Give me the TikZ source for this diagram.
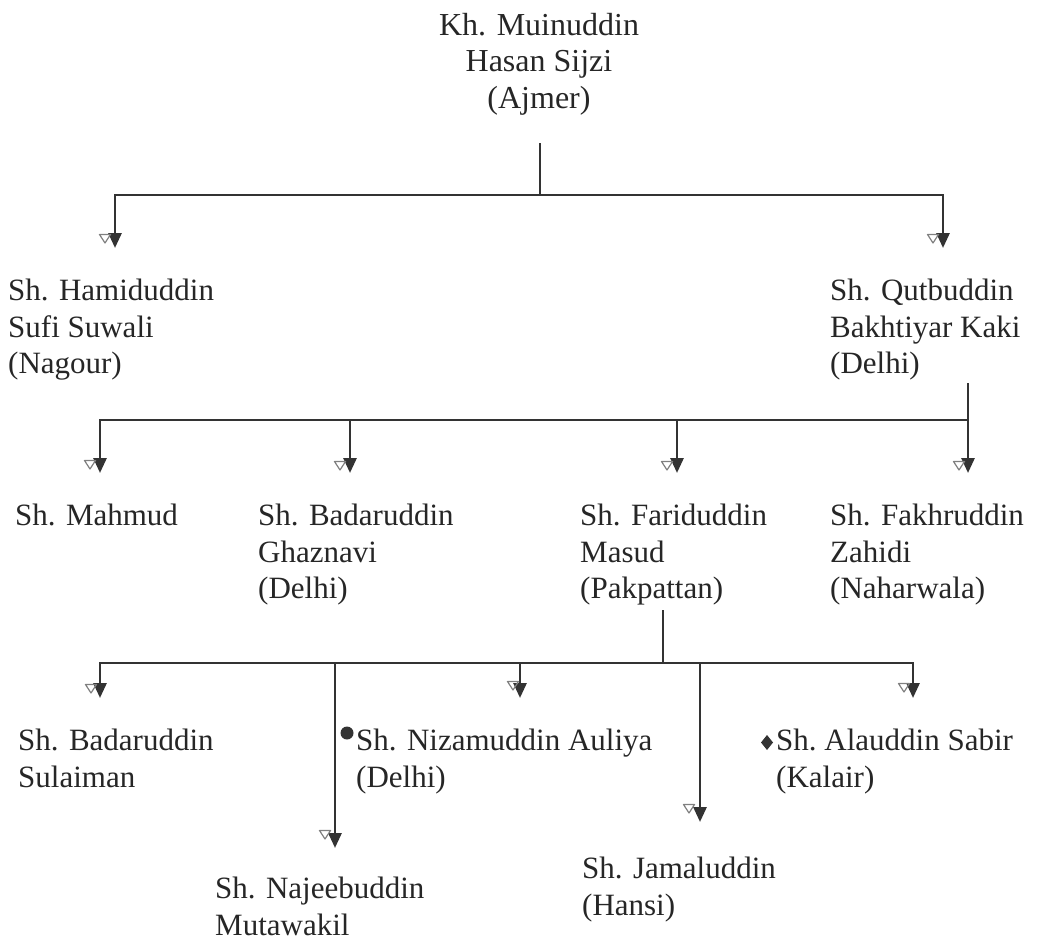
\documentclass[tikz,border=0pt]{standalone}
\usepackage{fontspec}
\setmainfont{Liberation Serif}
\usetikzlibrary{arrows.meta}
\begin{document}
\begin{tikzpicture}[x=1pt,y=-1pt,
  person/.style={anchor=north west, inner sep=0pt, align=left,
    font=\fontsize{31}{36.5}\selectfont, text=black!85},
  link/.style={line width=2.8pt, draw=black!80},
  arr/.style={link, -{Triangle[width=13pt,length=15pt]}},
  ghostmark/.pic={\draw[line width=1.2pt, draw=black!50, line join=round] (-5.5,-3.5) -- (5.5,-3.5) -- (0,5) -- cycle;}
]
\useasboundingbox (0,0) rectangle (1041,940);
% people
\node[person, anchor=north, align=center, font=\fontsize{32}{36.5}\selectfont] (muin) at (539,13) {Kh. Muinuddin\\Hasan Sijzi\\(Ajmer)};
\node[person] (hamid) at (8,279) {Sh. Hamiduddin\\Sufi Suwali\\(Nagour)};
\node[person] (qutb) at (830,279) {Sh. Qutbuddin\\Bakhtiyar Kaki\\(Delhi)};
\node[person] (mahmud) at (15,504) {Sh. Mahmud};
\node[person] (badg) at (258,504) {Sh. Badaruddin\\Ghaznavi\\(Delhi)};
\node[person] (farid) at (580,504) {Sh. Fariduddin\\Masud\\(Pakpattan)};
\node[person] (fakhr) at (830,504) {Sh. Fakhruddin\\Zahidi\\(Naharwala)};
\node[person] (bads) at (18,729) {Sh. Badaruddin\\Sulaiman};
\node[person] (nizam) at (356,729) {Sh. Nizamuddin Auliya\\(Delhi)};
\node[person] (ala) at (776,729) {Sh.\ Alauddin\ Sabir\\(Kalair)};
\node[person] (najeeb) at (215,877) {Sh. Najeebuddin\\Mutawakil};
\node[person] (jamal) at (582,857) {Sh. Jamaluddin\\(Hansi)};
% markers
\fill[black!80] (347,733) circle (6.5pt);
\fill[black!80] (767,735) -- (773,742.5) -- (767,750) -- (761,742.5) -- cycle;
% level 1
\coordinate (m1) at (540,143);
\coordinate (j1) at (540,195);
\coordinate (b1l) at (115,195);
\coordinate (b1r) at (943,195);
\coordinate (t1l) at (115,248);
\coordinate (t1r) at (943,248);
\draw[link] (m1) -- (j1);
\draw[arr] (j1) -- (b1l) -- (t1l);
\draw[arr] (j1) -- (b1r) -- (t1r);
% level 2
\coordinate (q2) at (968,383);
\coordinate (j2) at (968,420);
\coordinate (b2a) at (100,420);
\coordinate (b2b) at (350,420);
\coordinate (b2c) at (677,420);
\coordinate (t2a) at (100,473);
\coordinate (t2b) at (350,473);
\coordinate (t2c) at (677,473);
\coordinate (t2d) at (968,473);
\draw[arr] (q2) -- (t2d);
\draw[arr] (j2) -- (b2a) -- (t2a);
\draw[arr] (b2b) -- (t2b);
\draw[arr] (b2c) -- (t2c);
% level 3
\coordinate (f3) at (663,610);
\coordinate (j3) at (663,663);
\coordinate (b3a) at (100,663);
\coordinate (b3b) at (335,663);
\coordinate (b3c) at (520,663);
\coordinate (b3d) at (700,663);
\coordinate (b3e) at (913,663);
\coordinate (t3a) at (100,698);
\coordinate (t3b) at (335,848);
\coordinate (t3c) at (520,698);
\coordinate (t3d) at (700,822);
\coordinate (t3e) at (913,698);
\draw[link] (f3) -- (j3);
\draw[arr] (j3) -- (b3a) -- (t3a);
\draw[arr] (j3) -- (b3e) -- (t3e);
\draw[arr] (b3b) -- (t3b);
\draw[arr] (b3c) -- (t3c);
\draw[arr] (b3d) -- (t3d);
% faint hollow marks
\pic at (105,238) {ghostmark};
\pic at (933,238) {ghostmark};
\pic at (90,464) {ghostmark};
\pic at (340,465) {ghostmark};
\pic at (667,465) {ghostmark};
\pic at (959,465) {ghostmark};
\pic at (91,688) {ghostmark};
\pic at (513,685) {ghostmark};
\pic at (904,687) {ghostmark};
\pic at (325,834) {ghostmark};
\pic at (689,808) {ghostmark};
\end{tikzpicture}
\end{document}
